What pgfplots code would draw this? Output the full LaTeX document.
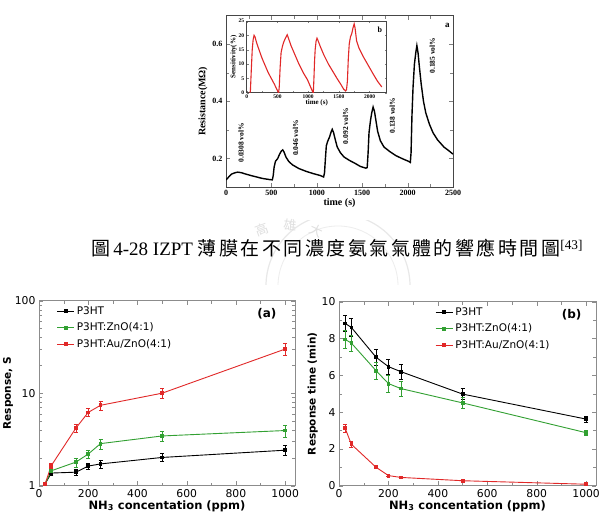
\documentclass[border=0pt]{standalone}
\usepackage{fontspec}
\setmainfont{Liberation Serif}
\newfontfamily\verd{DejaVu Sans}
\newfontfamily\cjk[LetterSpace=13]{Noto Sans CJK TC}
\usepackage{pgfplots}
\pgfplotsset{compat=1.18}
\definecolor{pgreen}{RGB}{50,160,50}
\definecolor{pred}{RGB}{225,40,40}
\definecolor{framec}{RGB}{140,140,140}
\definecolor{topframe}{RGB}{70,70,70}

\pgfplotstableread{
t r
0 0.125
30 0.135
60 0.145
100 0.150
130 0.152
170 0.150
220 0.145
300 0.138
400 0.130
480 0.126
510 0.125
520 0.140
530 0.170
545 0.190
570 0.200
590 0.215
610 0.226
625 0.230
640 0.222
660 0.205
690 0.190
730 0.178
800 0.165
880 0.155
960 0.147
1040 0.140
1075 0.135
1085 0.150
1095 0.200
1105 0.245
1120 0.260
1140 0.275
1160 0.295
1170 0.302
1185 0.290
1200 0.270
1225 0.240
1260 0.220
1300 0.205
1360 0.193
1420 0.183
1480 0.172
1540 0.166
1555 0.168
1565 0.220
1575 0.290
1590 0.330
1605 0.360
1620 0.380
1635 0.365
1650 0.335
1670 0.295
1700 0.262
1740 0.240
1800 0.225
1870 0.210
1950 0.198
2010 0.190
2030 0.186
2038 0.220
2048 0.350
2060 0.450
2075 0.530
2090 0.570
2102 0.595
2115 0.570
2130 0.520
2150 0.460
2175 0.400
2200 0.360
2240 0.320
2280 0.290
2330 0.265
2400 0.240
2450 0.228
2500 0.215
}\resist

\pgfplotstableread{
t s
50 0
60 0.5
75 8
90 15
105 18.5
120 20
135 19.5
160 17.5
200 15
250 12
300 9.5
350 7
400 5
450 3
490 1.2
510 0.3
520 0
530 2
545 9
560 14
580 16
600 17.5
630 19
660 20.2
680 19
720 16.5
780 13.5
850 10
920 7
990 4.5
1040 2
1070 0.5
1085 0
1095 5
1105 11
1115 15
1130 18
1145 19
1165 18
1200 16
1260 13
1330 10
1400 7.5
1470 5
1530 3
1580 1.2
1610 0.6
1625 1
1640 4
1655 12
1670 17
1690 19.5
1710 20.5
1730 22.5
1750 24
1765 22.5
1790 18
1830 15.5
1900 12.5
1980 9.5
2060 6.5
2130 4
2200 2
}\sens

\pgfplotstableread{
x y e
25 1.05 0.03
50 1.37 0.08
150 1.40 0.10
200 1.63 0.12
250 1.72 0.18
500 2.02 0.20
1000 2.42 0.30
}\aone
\pgfplotstableread{
x y e
25 1.05 0.03
50 1.45 0.10
150 1.80 0.20
200 2.20 0.20
250 2.85 0.35
500 3.45 0.45
1000 3.95 0.60
}\atwo
\pgfplotstableread{
x y e
25 1.05 0.05
50 1.65 0.10
150 4.20 0.40
200 6.20 0.60
250 7.40 0.80
500 10.0 1.20
1000 30.0 4.50
}\athree

\pgfplotstableread{
x y e
25 8.82 0.45
50 8.60 0.50
150 6.98 0.45
200 6.47 0.40
250 6.20 0.40
500 4.98 0.30
1000 3.62 0.15
}\bone
\pgfplotstableread{
x y e
25 7.95 0.50
50 7.75 0.45
150 6.25 0.45
200 5.55 0.45
250 5.28 0.40
500 4.50 0.30
1000 2.88 0.15
}\btwo
\pgfplotstableread{
x y e
25 3.12 0.20
50 2.25 0.15
150 1.00 0.06
200 0.55 0.05
250 0.45 0.04
500 0.27 0.04
1000 0.08 0.04
}\bthree

\pgfplotsset{
  bottomstyle/.style={
    scale only axis, anchor=south west,
    xmin=0, xmax=1040,
    xtick={0,200,...,1000}, minor x tick num=1,
    tick align=inside,
    axis line style={framec, line width=0.8pt},
    major tick style={framec}, minor tick style={framec},
    tick label style={font=\verd\fontsize{10.8}{11}\selectfont},
    label style={font=\verd\bfseries\fontsize{11.5}{12}\selectfont},
    /pgf/number format/assume math mode=true,
    /pgf/number format/1000 sep={},
    xlabel={NH\textsubscript{3} concentation (ppm)},
    xlabel style={yshift=4pt},
    legend style={draw=none, fill=none, font=\verd\fontsize{10.5}{11}\selectfont, row sep=3pt, inner sep=1pt},
    legend cell align=left,
    every axis plot/.append style={line width=0.9pt, mark=square*, mark size=1.4pt},
    error bars/y dir=both, error bars/y explicit,
    error bars/error bar style={line width=0.5pt},
    error bars/error mark options={rotate=90, mark size=2pt, line width=0.5pt},
  }
}

\begin{document}
\begin{tikzpicture}[x=1pt,y=1pt]
\path[use as bounding box, fill=white] (0pt,0pt) rectangle (609pt,521pt);

% faint seal watermark
\begin{scope}
\clip (180pt,236pt) rectangle (500pt,300pt);
\draw[gray!18, line width=1.2pt] (338pt,235pt) circle (72pt);
\draw[gray!14, line width=0.8pt] (338pt,235pt) circle (60pt);
\end{scope}
\node[gray!25, font=\cjk\fontsize{13}{13}\selectfont, rotate=20] at (262pt,291pt) {高};
\node[gray!25, font=\cjk\fontsize{13}{13}\selectfont, rotate=-5] at (290pt,296pt) {雄};
\node[gray!25, font=\cjk\fontsize{13}{13}\selectfont, rotate=-25] at (316pt,290pt) {大};

% caption
\node[anchor=west, inner sep=0pt, font=\fontsize{19}{20}\selectfont] at (91pt,273pt)
  {{\cjk 圖}\,4-28 IZPT {\cjk 薄膜在不同濃度氨氣氣體的響應時間圖}\textsuperscript{[43]}};

% top main chart
\begin{axis}[
  at={(226pt,334pt)}, anchor=south west, scale only axis,
  width=227pt, height=171.3pt,
  xmin=0, xmax=2500, ymin=0.1, ymax=0.7,
  xtick={0,500,...,2500}, ytick={0.2,0.4,0.6},
  minor x tick num=1, minor y tick num=1,
  tick align=inside,
  axis line style={topframe, line width=0.9pt},
  tick label style={font=\bfseries\fontsize{8}{9}\selectfont},
  /pgf/number format/assume math mode=true,
  /pgf/number format/1000 sep={},
  yticklabel style={/pgf/number format/.cd, fixed, fixed zerofill, precision=1},
  xlabel={time (s)}, ylabel={Resistance(MΩ)},
  label style={font=\bfseries\fontsize{10}{11}\selectfont},
  xlabel style={yshift=4pt}, ylabel style={yshift=-2pt},
]
\addplot[black, line width=1.4pt] table[x=t, y=r] {\resist};
\node[rotate=90, font=\bfseries\fontsize{7.5}{8}\selectfont] at (axis cs:165,0.255) {0.0308 vol\%};
\node[rotate=90, font=\bfseries\fontsize{7.5}{8}\selectfont] at (axis cs:765,0.272) {0.046 vol\%};
\node[rotate=90, font=\bfseries\fontsize{7.5}{8}\selectfont] at (axis cs:1316,0.313) {0.092 vol\%};
\node[rotate=90, font=\bfseries\fontsize{7.5}{8}\selectfont] at (axis cs:1831,0.350) {0.138 vol\%};
\node[rotate=90, font=\bfseries\fontsize{7.5}{8}\selectfont] at (axis cs:2272,0.560) {0.185 vol\%};
\node[font=\bfseries\fontsize{9}{10}\selectfont] at (axis cs:2437,0.666) {a};
\end{axis}

% inset
\begin{axis}[
  at={(246.7pt,428.3pt)}, anchor=south west, scale only axis,
  width=140pt, height=71.7pt,
  axis background/.style={fill=white},
  xmin=0, xmax=2280, ymin=0, ymax=25,
  xtick={0,500,...,2000}, ytick={0,5,...,25},
  minor x tick num=1,
  tick align=inside,
  major tick length=2pt, minor tick length=1.2pt,
  axis line style={topframe, line width=0.8pt},
  tick label style={font=\bfseries\fontsize{5.5}{6}\selectfont},
  /pgf/number format/assume math mode=true,
  /pgf/number format/1000 sep={},
  xlabel={time (s)}, ylabel={Sensitivity(\%)},
  label style={font=\bfseries\fontsize{7}{8}\selectfont},
  xlabel style={yshift=6pt}, ylabel style={yshift=-5pt},
  xticklabel style={yshift=1pt}, yticklabel style={xshift=1pt},
]
\addplot[pred, line width=1.1pt] table[x=t, y=s] {\sens};
\node[font=\bfseries\fontsize{8}{9}\selectfont] at (axis cs:2170,22) {b};
\end{axis}

% bottom (a)
\begin{axis}[bottomstyle,
  at={(39pt,35.3pt)}, width=256pt, height=185pt,
  ymode=log, ymin=1, ymax=100,
  log ticks with fixed point,
  ylabel={Response, S},
  ylabel style={yshift=-5pt, font=\verd\bfseries\fontsize{10.5}{11}\selectfont},
  legend style={at={(0.065,0.985)}, anchor=north west},
]
\addplot[black] table[x=x, y=y, y error=e] {\aone};
\addplot[pgreen] table[x=x, y=y, y error=e] {\atwo};
\addplot[pred] table[x=x, y=y, y error=e] {\athree};
\legend{P3HT, P3HT:ZnO(4:1), P3HT:Au/ZnO(4:1)}
\node[font=\verd\bfseries\fontsize{12}{13}\selectfont] at (rel axis cs:0.89,0.93) {(a)};
\end{axis}

% bottom (b)
\begin{axis}[bottomstyle,
  at={(339pt,35.3pt)}, width=257pt, height=184pt,
  ymin=0, ymax=10, ytick={0,2,...,10}, minor y tick num=1,
  ylabel={Response time (min)},
  ylabel style={yshift=-3pt, font=\verd\bfseries\fontsize{10.5}{11}\selectfont},
  legend style={at={(0.37,0.985)}, anchor=north west},
]
\addplot[black] table[x=x, y=y, y error=e] {\bone};
\addplot[pgreen] table[x=x, y=y, y error=e] {\btwo};
\addplot[pred] table[x=x, y=y, y error=e] {\bthree};
\legend{P3HT, P3HT:ZnO(4:1), P3HT:Au/ZnO(4:1)}
\node[font=\verd\bfseries\fontsize{12}{13}\selectfont] at (rel axis cs:0.905,0.93) {(b)};
\end{axis}
\end{tikzpicture}
\end{document}
